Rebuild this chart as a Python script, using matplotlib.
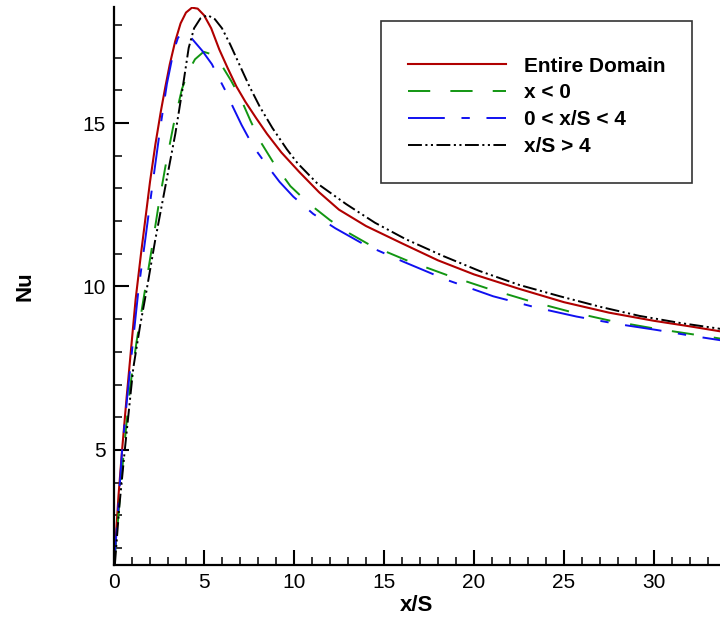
import matplotlib
matplotlib.use("Agg")
import matplotlib.pyplot as plt
from matplotlib.ticker import MultipleLocator

plt.rcParams['font.family'] = ['Liberation Sans', 'DejaVu Sans']
plt.rcParams['lines.scale_dashes'] = False

# Nusselt number along the channel, averaged over different regions
x_entire = [0.0, 0.1, 0.25, 0.45, 0.7, 0.95, 1.2, 1.5, 1.75, 2.0, 2.3, 2.6, 2.85, 3.1,
            3.4, 3.7, 4.0, 4.33, 4.65, 5.0, 5.4, 5.85, 6.3, 6.8, 7.3, 7.9, 8.5, 9.3,
            10.3, 11.4, 12.5, 14.0, 16.0, 18.0, 20.0, 22.5, 25.0, 27.5, 30.0, 32.0, 34.0]
nu_entire = [1.5, 2.3, 3.6, 5.0, 6.6, 8.1, 9.6, 11.0, 12.1, 13.2, 14.35, 15.35, 16.1, 16.8,
             17.5, 18.05, 18.38, 18.53, 18.5, 18.3, 17.9, 17.25, 16.7, 16.12, 15.65, 15.15,
             14.67, 14.1, 13.5, 12.88, 12.35, 11.85, 11.32, 10.8, 10.37, 9.93, 9.52, 9.2,
             8.95, 8.78, 8.6]

x_upstream = [0.0, 0.2, 0.55, 0.89, 1.25, 1.65, 2.11, 2.48, 2.85, 3.31, 3.78, 4.15, 4.5,
              4.98, 5.33, 5.7, 6.0, 6.5, 7.0, 7.6, 8.15, 8.9, 9.8, 10.8, 12.0, 13.1, 14.22,
              16.26, 18.5, 20.7, 23.0, 25.33, 27.6, 29.96, 32.0, 34.0]
nu_upstream = [1.5, 2.7, 5.0, 6.9, 8.3, 9.65, 11.2, 12.5, 13.65, 14.95, 16.05, 16.6, 16.95,
               17.18, 17.12, 16.95, 16.75, 16.3, 15.8, 15.05, 14.42, 13.75, 13.07, 12.55,
               12.03, 11.62, 11.27, 10.8, 10.35, 9.95, 9.57, 9.23, 8.95, 8.72, 8.55, 8.38]

x_near = [0.0, 0.2, 0.45, 0.75, 1.05, 1.37, 1.74, 2.11, 2.57, 2.94, 3.31, 3.55, 3.78,
          4.05, 4.33, 4.89, 5.44, 5.85, 6.2, 6.6, 7.09, 7.74, 8.48, 9.2, 9.96, 11.07,
          12.3, 13.85, 16.07, 18.5, 21.07, 23.5, 25.7, 28.0, 30.15, 32.0, 34.0]
nu_near = [1.5, 2.9, 5.0, 6.7, 8.3, 9.95, 11.45, 13.0, 14.85, 16.2, 17.2, 17.6, 17.78,
           17.7, 17.58, 17.22, 16.8, 16.35, 15.98, 15.5, 14.94, 14.28, 13.72, 13.2, 12.75,
           12.22, 11.78, 11.3, 10.76, 10.2, 9.7, 9.35, 9.08, 8.85, 8.67, 8.5, 8.33]

x_down = [0.05, 0.3, 0.6, 1.07, 1.45, 1.8, 2.29, 2.85, 3.41, 3.78, 4.15, 4.45, 4.8, 5.2,
          5.6, 6.0, 6.46, 7.0, 7.5, 8.1, 8.8, 9.6, 10.2, 11.3, 12.9, 14.5, 16.2, 18.3,
          20.33, 22.5, 24.78, 27.0, 29.2, 31.5, 34.0]
nu_down = [1.5, 3.3, 5.0, 7.5, 8.8, 9.85, 11.42, 13.05, 14.68, 15.95, 17.3, 17.9, 18.2,
           18.3, 18.18, 17.9, 17.4, 16.75, 16.15, 15.5, 14.85, 14.2, 13.77, 13.15, 12.52,
           11.95, 11.45, 10.93, 10.47, 10.05, 9.7, 9.38, 9.1, 8.88, 8.68]

labels = ['Entire Domain', 'x < 0', '0 < x/S < 4', 'x/S > 4']

fig = plt.figure(figsize=(7.2, 6.19), dpi=100)
ax = fig.add_axes([114 / 720, 54 / 619, 606 / 720, 558 / 619])

ax.plot(x_entire, nu_entire, color='#b00000', lw=1.5, label=labels[0])
ax.plot(x_upstream, nu_upstream, color='#129612', lw=1.4,
        dashes=(16, 14.5), label=labels[1])
ax.plot(x_near, nu_near, color='#1010f0', lw=1.4,
        dashes=(26.5, 12, 6, 12), label=labels[2])
ax.plot(x_down, nu_down, color='black', lw=1.4,
        dashes=(10, 2.5, 1.5, 2.5, 1.5, 2.5), label=labels[3])

ax.set_xlim(0, 33.67)
ax.set_ylim(1.48, 18.55)

ax.xaxis.set_major_locator(MultipleLocator(5))
ax.xaxis.set_minor_locator(MultipleLocator(1))
ax.yaxis.set_major_locator(MultipleLocator(5))
ax.yaxis.set_minor_locator(MultipleLocator(1))

for side in ('top', 'right'):
    ax.spines[side].set_visible(False)
for side in ('left', 'bottom'):
    ax.spines[side].set_linewidth(1.6)

ax.tick_params(which='major', direction='in', length=10.5, width=1.5,
               labelsize=15, pad=6)
ax.tick_params(which='minor', direction='in', length=5.8, width=1.1)

ax.set_xlabel('x/S', fontsize=16, fontweight='bold', labelpad=2)
ax.set_ylabel('Nu', fontsize=16, fontweight='bold', labelpad=34)

# a near-empty title gives the legend box its extra room above the entries
leg = ax.legend(loc='upper left', bbox_to_anchor=(0.4406, 0.975),
                prop={'weight': 'bold', 'size': 15},
                title=' ', title_fontsize=1,
                frameon=True, fancybox=False, framealpha=1,
                edgecolor='#333333', handlelength=4.7, handletextpad=0.85,
                labelspacing=0.37, borderpad=1.3, borderaxespad=0)
leg.get_frame().set_linewidth(1.2)

fig.savefig('out.png', dpi=100)
